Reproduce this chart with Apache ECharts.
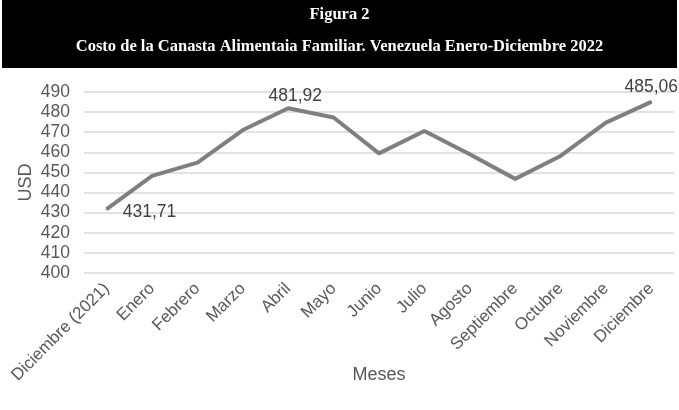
<!DOCTYPE html>
<html><head><meta charset="utf-8">
<script src="https://cdn.jsdelivr.net/npm/echarts@6/dist/echarts.min.js"></script>
<style>html,body{margin:0;padding:0;background:#fff}#c{width:679px;height:410px}</style>
</head><body><div id="c"></div>
<script>
const categories = ["Diciembre (2021)","Enero","Febrero","Marzo","Abril","Mayo","Junio","Julio","Agosto","Septiembre","Octubre","Noviembre","Diciembre"];
const values = [431.71,448.3,454.9,471.1,481.92,477.3,459.5,470.6,459.0,446.8,458.2,474.8,485.06];
const labeledIdx = [0,4,12];
const yTicks = [400,410,420,430,440,450,460,470,480,490];

const chart = echarts.init(document.getElementById('c'));
const fmt = v => v.toFixed(2).replace('.', ',');
const data = values.map((v,i)=>{
  const d = {value:v};
  if (labeledIdx.includes(i)) {
    let pos = 'top', off=[0,0];
    if (i===0) { pos='right'; off=[10,3]; }
    if (i===4) { pos='top'; off=[7,3]; }
    if (i===12) { pos='top'; off=[0,0]; }
    d.label = {show:true, position:pos, distance:5, offset:off, formatter:p=>fmt(p.value), fontSize:17.5, color:'#404040', fontFamily:'Liberation Sans, Arial'};
  }
  return d;
});
chart.setOption({
  animation:false,
  graphic:[
    {type:'rect', shape:{x:2,y:0,width:675,height:68}, style:{fill:'#000'}},
    {type:'text', left:'center', top:6, style:{text:'Figura 2', fill:'#fff', font:'bold 16.5px "Liberation Serif", "DejaVu Serif", serif'}},
    {type:'text', left:'center', top:38, style:{text:'Costo de la Canasta Alimentaia Familiar. Venezuela Enero-Diciembre 2022', fill:'#fff', font:'bold 16.5px "Liberation Serif", "DejaVu Serif", serif'}}
  ],
  grid:{left:84, right:5, top:92, bottom:137},
  xAxis:{
    type:'category', data:categories, boundaryGap:true,
    name:'Meses', nameLocation:'middle', nameGap:93, nameMoveOverlap:false,
    nameTextStyle:{fontSize:18, color:'#595959', fontFamily:'Liberation Sans, Arial'},
    axisLine:{show:false}, axisTick:{show:false},
    axisLabel:{rotate:45, fontSize:17, color:'#595959', fontFamily:'Liberation Sans, Arial', margin:13, interval:0}
  },
  yAxis:{
    type:'value', min:yTicks[0], max:yTicks[yTicks.length-1], interval:10,
    name:'USD', nameLocation:'middle', nameGap:49, nameRotate:90, nameMoveOverlap:false,
    nameTextStyle:{fontSize:18, color:'#595959', fontFamily:'Liberation Sans, Arial'},
    axisLine:{show:false}, axisTick:{show:false},
    axisLabel:{fontSize:17.5, color:'#595959', fontFamily:'Liberation Sans, Arial', margin:14},
    splitLine:{lineStyle:{color:'#d9d9d9', width:1.5}}
  },
  series:[{type:'line', data:data, symbol:'circle', symbolSize:2, showSymbol:true, lineStyle:{color:'#7f7f7f', width:4}, itemStyle:{color:'#7f7f7f'}}]
});
</script></body></html>
